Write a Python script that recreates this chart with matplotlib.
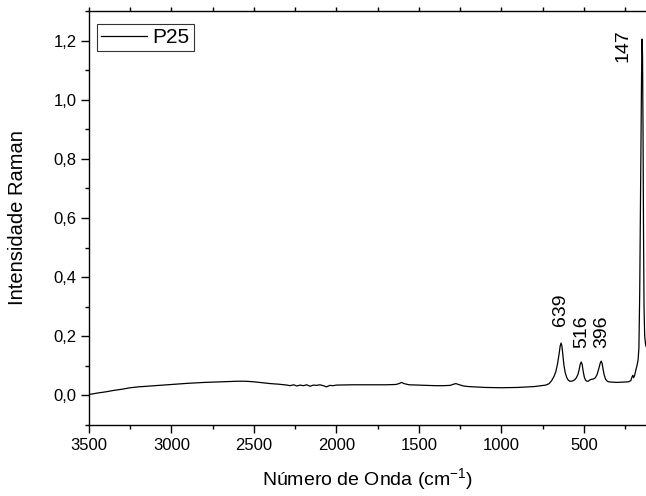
import matplotlib
matplotlib.use("Agg")
import matplotlib.pyplot as plt
from matplotlib.ticker import MultipleLocator, FuncFormatter

plt.rcParams['font.family'] = ['Liberation Sans', 'DejaVu Sans']
plt.rcParams['mathtext.fontset'] = 'custom'
plt.rcParams['mathtext.rm'] = 'Liberation Sans'
plt.rcParams['mathtext.default'] = 'regular'

# Raman shift (cm^-1) and intensity
wavenumber = [3500, 3450, 3400, 3350, 3300, 3250, 3200, 3150, 3100, 3000, 2900, 2800,
              2700, 2600, 2550, 2500, 2450, 2400, 2350, 2300, 2280, 2260, 2240, 2220,
              2200, 2180, 2160, 2140, 2120, 2100, 2080, 2060, 2040, 2020, 2000, 1900,
              1800, 1700, 1640, 1620, 1605, 1590, 1560, 1500, 1450, 1400, 1350, 1310,
              1290, 1275, 1260, 1230, 1200, 1100, 1000, 900, 800, 760, 730, 710, 695,
              680, 670, 660, 650, 643, 638, 633, 627, 620, 612, 603, 595, 585, 575, 565,
              555, 545, 535, 528, 522, 516, 510, 504, 497, 490, 482, 474, 466, 458, 450,
              440, 430, 420, 412, 405, 399, 394, 389, 383, 376, 368, 360, 350, 330, 300,
              260, 230, 215, 208, 203, 198, 192, 185, 178, 171, 166, 161, 157, 153, 150,
              147, 144, 141, 138, 135, 131, 125, 118, 110]
intensity = [0.003, 0.008, 0.012, 0.017, 0.021, 0.026, 0.029, 0.031, 0.033, 0.037, 0.041, 0.044,
             0.046, 0.048, 0.048, 0.046, 0.043, 0.040, 0.038, 0.035, 0.033, 0.036, 0.032, 0.035,
             0.033, 0.036, 0.031, 0.035, 0.034, 0.036, 0.033, 0.029, 0.034, 0.033, 0.035, 0.036,
             0.036, 0.036, 0.037, 0.040, 0.044, 0.040, 0.036, 0.035, 0.034, 0.033, 0.033, 0.034,
             0.038, 0.040, 0.037, 0.032, 0.030, 0.027, 0.026, 0.027, 0.030, 0.033, 0.035, 0.040, 0.050,
             0.065, 0.080, 0.105, 0.140, 0.168, 0.177, 0.168, 0.135, 0.100, 0.075, 0.060, 0.052, 0.048, 0.048, 0.050,
             0.053, 0.060, 0.072, 0.088, 0.105, 0.113, 0.105, 0.082, 0.062, 0.052, 0.048, 0.048, 0.051, 0.054, 0.055,
             0.056, 0.060, 0.070, 0.085, 0.100, 0.112, 0.116, 0.108, 0.088, 0.068, 0.055, 0.049, 0.046, 0.045, 0.044,
             0.045, 0.046, 0.050, 0.062, 0.068, 0.060, 0.068, 0.085, 0.100, 0.120, 0.160, 0.350, 0.620, 0.900, 1.080,
             1.205, 1.150, 0.900, 0.550, 0.300, 0.200, 0.170, 0.160, 0.150]

peak_labels = ["639", "516", "396", "147"]
peak_label_x = [641, 514, 392, 263]
peak_label_y = [0.29, 0.214, 0.217, 1.182]

fig = plt.figure(figsize=(6.46, 4.96), dpi=100)
ax = fig.add_axes([89/646, 71/496, 557/646, 414/496])

ax.plot(wavenumber, intensity, color='black', lw=0.9, label='P25')

ax.set_xlim(3500, 123)
ax.set_ylim(-0.1, 1.3)

ax.xaxis.set_major_locator(MultipleLocator(500))
ax.xaxis.set_minor_locator(MultipleLocator(250))
ax.yaxis.set_major_locator(MultipleLocator(0.2))
ax.yaxis.set_minor_locator(MultipleLocator(0.1))
ax.yaxis.set_major_formatter(FuncFormatter(lambda v, p: f"{v:.1f}".replace('.', ',').replace('-0,0', '0,0')))

ax.tick_params(axis='both', which='major', direction='out', length=6, width=1.0, labelsize=12, pad=3)
ax.tick_params(axis='both', which='minor', direction='out', length=3, width=1.0)
ax.tick_params(axis='x', which='both', top=True)
for t in ax.xaxis.get_major_ticks() + ax.xaxis.get_minor_ticks():
    t.tick2line.set_markersize(3)
ax.spines['right'].set_visible(False)
for s in ['left', 'bottom', 'top']:
    ax.spines[s].set_linewidth(1.0)

ax.set_xlabel('Número de Onda (cm$^{-1}$)', fontsize=14, labelpad=10)
ax.set_ylabel('Intensidade Raman', fontsize=14.5, labelpad=19)

for txt, x, y in zip(peak_labels, peak_label_x, peak_label_y):
    ax.text(x, y, txt, rotation=90, ha='center', va='center', fontsize=14)

leg = ax.legend(loc='upper left', fontsize=15, frameon=True, fancybox=False,
                edgecolor='black', borderpad=0.2, borderaxespad=0.0,
                handlelength=2.2, handletextpad=0.25,
                bbox_to_anchor=(8/557, 1 - 13/414))
leg.get_frame().set_linewidth(0.8)

fig.savefig('out.png', dpi=100)
